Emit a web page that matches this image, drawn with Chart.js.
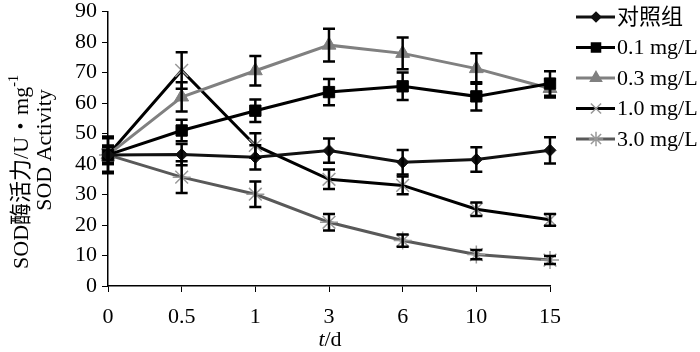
<!DOCTYPE html>
<html>
<head>
<meta charset="utf-8">
<script src="https://cdn.jsdelivr.net/npm/chart.js@4/dist/chart.umd.min.js"></script>
<style>
  body { margin: 0; background: #fff; }
  #sodChart { display: block; }
</style>
</head>
<body>
<canvas id="sodChart" width="700" height="352"></canvas>
<script>
// Data
const days = ['0', '0.5', '1', '3', '6', '10', '15'];
const yTicks = [0, 10, 20, 30, 40, 50, 60, 70, 80, 90];

const control = [43, 43.1, 42.2, 44.4, 40.6, 41.5, 44.5];
const controlErr = [3, 3.5, 4, 4, 4, 4, 4.3];
const dose01 = [43, 51, 57.5, 63.6, 65.5, 62.2, 66.4];
const dose01Err = [5.5, 3.5, 3.7, 4.3, 4.5, 4.6, 4];
const dose03 = [43, 62, 70.6, 79, 76.3, 71.3, 64.8];
const dose03Err = [2.5, 4.8, 4.8, 5.4, 5.2, 5, 3];
const dose10 = [43, 70.7, 46.1, 35, 33, 25.2, 21.7];
const dose10Err = [3, 6, 4, 3.2, 2.9, 2.2, 1.9];
const dose30 = [43, 35.7, 30.1, 20.9, 14.9, 10.3, 8.5];
const dose30Err = [6, 5.2, 4.2, 2.7, 2, 1.5, 1.3];

const serif = "'Liberation Serif', 'Times New Roman', 'Noto Sans CJK SC', serif";

function series(label, data, errors, lineColor, markColor, style, radius) {
    return {
        label: label,
        data: data,
        errors: errors,
        borderColor: lineColor,
        backgroundColor: markColor,
        pointBackgroundColor: markColor,
        pointBorderColor: markColor,
        pointStyle: style,
        pointRadius: radius,
        pointBorderWidth: style === 'crossRot' || style === 'star' ? 1.5 : 1,
        borderWidth: 3,
        tension: 0,
        fill: false
    };
}

// Error bars, legend and axis titles
const extras = {
    id: 'extras',
    afterDatasetsDraw(chart) {
        const { ctx, scales: { y } } = chart;
        ctx.save();
        ctx.strokeStyle = '#000';
        ctx.lineWidth = 2.5;
        chart.data.datasets.forEach((ds, i) => {
            chart.getDatasetMeta(i).data.forEach((pt, j) => {
                const top = y.getPixelForValue(ds.data[j] + ds.errors[j]);
                const bot = y.getPixelForValue(ds.data[j] - ds.errors[j]);
                ctx.beginPath();
                ctx.moveTo(pt.x, top); ctx.lineTo(pt.x, bot);
                ctx.moveTo(pt.x - 6, top); ctx.lineTo(pt.x + 6, top);
                ctx.moveTo(pt.x - 6, bot); ctx.lineTo(pt.x + 6, bot);
                ctx.stroke();
            });
        });
        ctx.restore();
    },
    afterDraw(chart) {
        const ctx = chart.ctx;
        ctx.save();

        // legend
        ctx.font = '22px ' + serif;
        ctx.textBaseline = 'middle';
        chart.data.datasets.forEach((ds, i) => {
            const ly = 17 + i * 30.5;
            ctx.strokeStyle = ds.borderColor;
            ctx.lineWidth = 3;
            ctx.beginPath();
            ctx.moveTo(576, ly); ctx.lineTo(615, ly);
            ctx.stroke();
            ctx.fillStyle = ds.pointBackgroundColor;
            ctx.strokeStyle = ds.pointBorderColor;
            ctx.lineWidth = 1.5;
            Chart.helpers.drawPoint(ctx, {
                pointStyle: ds.pointStyle,
                radius: ds.pointRadius * 0.8,
                rotation: 0,
                borderWidth: 1.5
            }, 596, ly);
            ctx.fillStyle = '#000';
            ctx.fillText(ds.label, 617, ly + 1);
        });

        // y title, two rotated lines
        ctx.fillStyle = '#000';
        ctx.textBaseline = 'middle';
        ctx.textAlign = 'left';
        ctx.translate(22, 172);
        ctx.rotate(-Math.PI / 2);
        const main = 'SOD酶活力/U・mg';
        ctx.font = '22px ' + serif;
        const wMain = ctx.measureText(main).width;
        ctx.font = '14px ' + serif;
        const wSup = ctx.measureText('-1').width;
        const sx = -(wMain + wSup) / 2;
        ctx.font = '22px ' + serif;
        ctx.fillText(main, sx, 0);
        ctx.font = '14px ' + serif;
        ctx.fillText('-1', sx + wMain, -8);
        ctx.setTransform(1, 0, 0, 1, 0, 0);
        ctx.translate(45, 150);
        ctx.rotate(-Math.PI / 2);
        ctx.font = '22px ' + serif;
        ctx.textAlign = 'center';
        ctx.fillText('SOD Activity', 0, 0);
        ctx.setTransform(1, 0, 0, 1, 0, 0);

        // x title t/d
        ctx.textAlign = 'left';
        ctx.font = 'italic 22px ' + serif;
        const wt = ctx.measureText('t').width;
        ctx.font = '22px ' + serif;
        const wd = ctx.measureText('/d').width;
        const tx = 330 - (wt + wd) / 2;
        ctx.font = 'italic 22px ' + serif;
        ctx.fillText('t', tx, 340);
        ctx.font = '22px ' + serif;
        ctx.fillText('/d', tx + wt, 340);

        ctx.restore();
    }
};

const ctx = document.getElementById('sodChart').getContext('2d');
const sodChart = new Chart(ctx, {
    type: 'line',
    data: {
        labels: days,
        datasets: [
            series('对照组', control, controlErr, '#111', '#111', 'rectRot', 6),
            series('0.1 mg/L', dose01, dose01Err, '#000', '#000', 'rect', 8),
            series('0.3 mg/L', dose03, dose03Err, '#808080', '#808080', 'triangle', 8),
            series('1.0 mg/L', dose10, dose10Err, '#000', '#999', 'crossRot', 9),
            series('3.0 mg/L', dose30, dose30Err, '#595959', '#999', 'star', 9)
        ]
    },
    options: {
        responsive: false,
        devicePixelRatio: 1,
        animation: false,
        layout: {
            padding: { top: 9, right: 150, left: 0, bottom: 0 }
        },
        plugins: {
            legend: { display: false },
            tooltip: { enabled: false }
        },
        scales: {
            x: {
                offset: false,
                grid: {
                    drawOnChartArea: false,
                    tickLength: 6,
                    color: '#000'
                },
                border: { color: '#000', width: 1.5 },
                ticks: {
                    color: '#000',
                    padding: 12,
                    maxRotation: 0,
                    font: { family: serif, size: 22 }
                },
                afterFit(scale) { scale.height = 66; }
            },
            y: {
                min: 0,
                max: 90,
                afterBuildTicks(scale) {
                    scale.ticks = yTicks.map(v => ({ value: v }));
                },
                grid: {
                    drawOnChartArea: false,
                    tickLength: 6,
                    color: '#000'
                },
                border: { color: '#000', width: 1.5 },
                ticks: {
                    color: '#000',
                    padding: 5,
                    font: { family: serif, size: 22, lineHeight: 0.6 }
                },
                afterFit(scale) { scale.width = 108; }
            }
        }
    },
    plugins: [extras]
});
</script>
</body>
</html>
